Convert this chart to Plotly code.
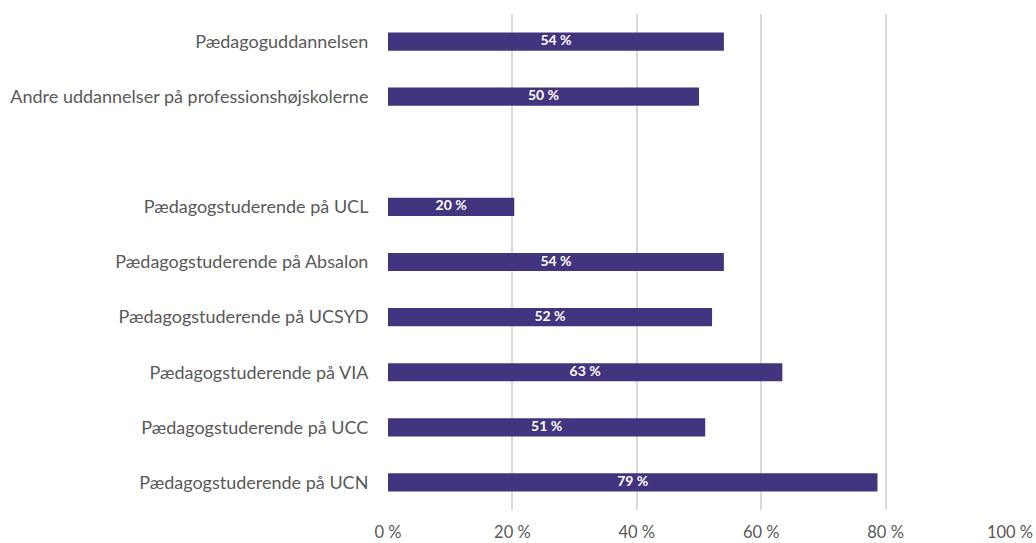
import plotly.graph_objects as go

categories = [
    "Pædagoguddannelsen",
    "Andre uddannelser på professionshøjskolerne",
    " ",
    "Pædagogstuderende på UCL",
    "Pædagogstuderende på Absalon",
    "Pædagogstuderende på UCSYD",
    "Pædagogstuderende på VIA",
    "Pædagogstuderende på UCC",
    "Pædagogstuderende på UCN",
]
values = [54.0, 50.0, None, 20.3, 54.0, 52.1, 63.4, 51.0, 78.7]
tick_vals = [0, 20, 40, 60, 80, 100]
tick_text = ["0 %", "20 %", "40 %", "60 %", "80 %", "100 %"]

label_x = [v / 2 if v is not None else None for v in values]
label_text = [f"{v:.0f} %" if v is not None else "" for v in values]

fig = go.Figure()
fig.add_trace(go.Bar(
    x=values, y=categories, orientation="h",
    marker=dict(color="#433480", line=dict(width=0)),
    textposition="none", width=0.33, hoverinfo="skip",
))
fig.add_trace(go.Scatter(
    x=label_x, y=categories, mode="text", text=label_text,
    textposition="middle center",
    textfont=dict(color="white", size=14, family="Lato", weight="bold"),
    hoverinfo="skip",
))
fig.update_layout(
    width=1036, height=543,
    margin=dict(l=388, r=26, t=14, b=33),
    plot_bgcolor="white", paper_bgcolor="white",
    font=dict(family="Lato", color="#595959", size=18),
    showlegend=False,
)
fig.update_xaxes(
    range=[0, 100], tickvals=tick_vals, ticktext=tick_text,
    showgrid=True, gridcolor="#d9d9d9", gridwidth=2, zeroline=False,
    ticks="outside", ticklen=7, tickcolor="rgba(0,0,0,0)",
    tickfont=dict(size=16.5, color="#595959"), showline=False, automargin=False,
)
fig.update_yaxes(
    categoryorder="array", categoryarray=categories, autorange="reversed",
    ticks="outside", ticklen=15, tickcolor="rgba(0,0,0,0)",
    tickfont=dict(size=18, color="#595959"), showline=False, showgrid=False,
    automargin=False,
)
fig.write_html(
    "out.html",
    config={"displayModeBar": False},
    post_script="document.body.style.margin='0';document.body.style.overflow='hidden';",
)
